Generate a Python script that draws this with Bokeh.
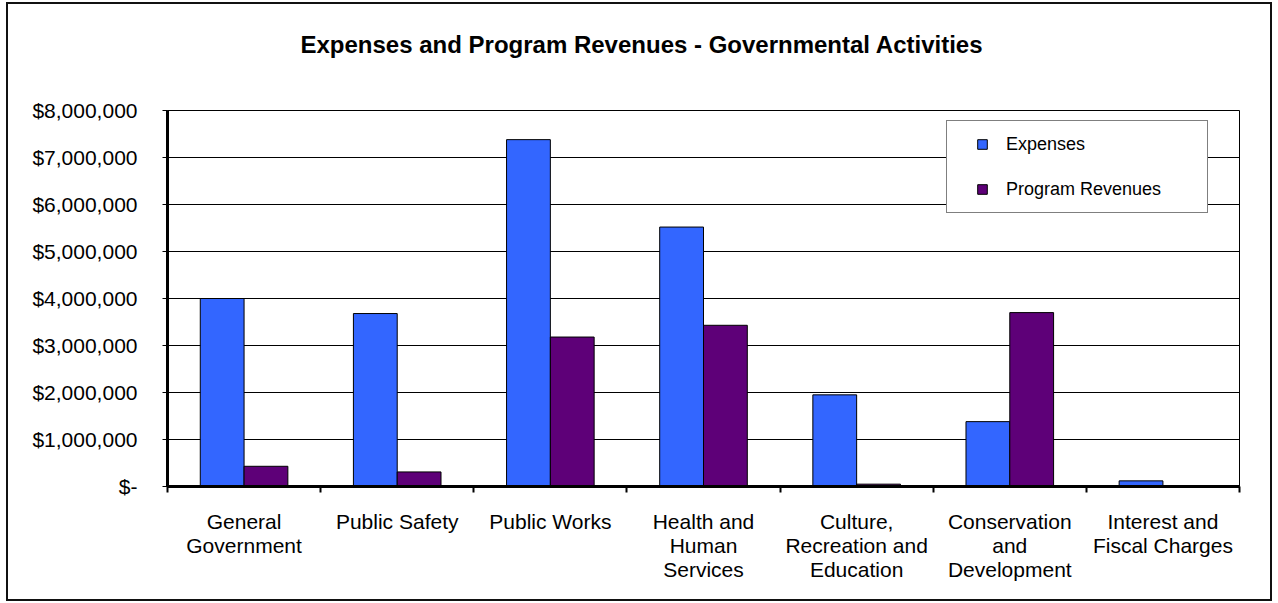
from bokeh.plotting import figure
from bokeh.models import (Range1d, FixedTicker, NumeralTickFormatter, Legend, LegendItem)
from bokeh.embed import file_html
from bokeh.resources import INLINE
import numpy as np

title_text = "Expenses and Program Revenues - Governmental Activities"
categories = ["General\nGovernment", "Public Safety", "Public Works",
              "Health and\nHuman\nServices", "Culture,\nRecreation and\nEducation",
              "Conservation\nand\nDevelopment", "Interest and\nFiscal Charges"]
expenses = [4000000, 3680000, 7380000, 5520000, 1950000, 1380000, 120000]
revenues = [430000, 310000, 3180000, 3430000, 50000, 3700000, 0]
y_ticks = [0, 1000000, 2000000, 3000000, 4000000, 5000000, 6000000, 7000000, 8000000]
series_names = ["Expenses", "Program Revenues"]

FONT = "Liberation Sans"
BLUE = "#3366FF"
PURPLE = "#5E0078"

n = len(categories)
centers = np.arange(n) + 0.5
bw = 0.286

# an empty second title line lifts the title towards the top of the chart box
p = figure(width=1262, height=595, output_backend="svg", toolbar_location=None,
           x_range=Range1d(0, n), y_range=Range1d(0, 8000000), title=title_text + "\n ",
           min_border_left=159, min_border_right=31, min_border_top=106, min_border_bottom=113)

p.vbar(x=centers - bw / 2, top=expenses, width=bw, fill_color=BLUE, line_color="black",
       line_width=1)
p.vbar(x=centers + bw / 2, top=revenues, width=bw, fill_color=PURPLE, line_color="black",
       line_width=1)

# legend swatches (a single NaN point: nothing drawn in the plot, only used for the legend)
sw1 = p.scatter(x=np.array([np.nan]), y=np.array([np.nan]), marker="square",
                fill_color=BLUE, line_color="black", line_width=1)
sw2 = p.scatter(x=np.array([np.nan]), y=np.array([np.nan]), marker="square",
                fill_color=PURPLE, line_color="black", line_width=1)

p.styles = {"outline": "2px solid #111111", "margin-left": "8px", "margin-top": "4px"}
p.background_fill_color = "white"
p.border_fill_color = "white"
p.outline_line_color = "black"
p.outline_line_width = 1

p.title.align = "left"
p.title.offset = 133
p.title.vertical_align = "middle"
p.title.standoff = 49
p.title.text_font = FONT
p.title.text_font_size = "24px"
p.title.text_font_style = "bold"
p.title.text_color = "black"

p.xgrid.grid_line_color = None
p.ygrid.grid_line_color = "black"
p.ygrid.grid_line_width = 1
p.ygrid.grid_line_alpha = 1

yax = p.yaxis[0]
yax.ticker = FixedTicker(ticks=y_ticks)
yax.formatter = NumeralTickFormatter(format="$0,0")
yax.major_label_overrides = {0: "$-"}
yax.major_label_text_font = FONT
yax.major_label_text_font_size = "21px"
yax.major_label_text_color = "black"
yax.major_tick_out = 5
yax.major_tick_in = 0
yax.major_tick_line_color = "black"
yax.minor_tick_line_color = None
yax.axis_line_width = 3
yax.axis_line_color = "black"
yax.major_label_standoff = 25

xax = p.xaxis[0]
xax.ticker = FixedTicker(ticks=list(centers), minor_ticks=list(range(n + 1)))
xax.major_label_overrides = {float(c): lab for c, lab in zip(centers, categories)}
xax.major_label_text_font = FONT
xax.major_label_text_font_size = "21px"
xax.major_label_text_color = "black"
xax.major_label_text_line_height = 1.05
xax.major_tick_line_color = None
xax.major_tick_out = 0
xax.major_tick_in = 0
xax.minor_tick_line_color = "black"
xax.minor_tick_line_width = 2
xax.minor_tick_out = 6
xax.minor_tick_in = 0
xax.axis_line_width = 3
xax.axis_line_color = "black"
xax.major_label_standoff = 17

lg = Legend(items=[LegendItem(label=series_names[0], renderers=[sw1]),
                   LegendItem(label=series_names[1], renderers=[sw2])],
            location=(779, 273))
lg.margin = 0
lg.padding = 11
lg.spacing = 21
lg.label_height = 20
lg.glyph_height = 24
lg.glyph_width = 48
lg.label_standoff = 0
lg.label_width = 190
lg.label_text_font = FONT
lg.label_text_font_size = "18px"
lg.label_text_color = "black"
lg.border_line_color = "black"
lg.border_line_width = 1
lg.background_fill_color = "white"
lg.background_fill_alpha = 1
p.add_layout(lg, "center")

open("out.html", "w").write(file_html(p, INLINE))
